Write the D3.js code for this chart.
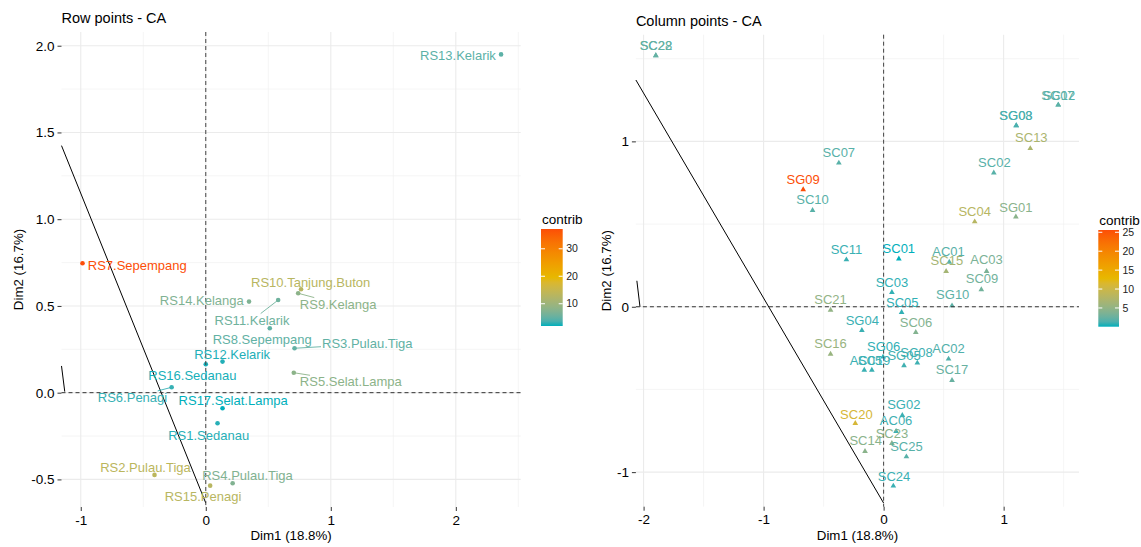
<!DOCTYPE html>
<html>
<head>
<meta charset="utf-8">
<script src="https://cdn.jsdelivr.net/npm/d3@7"></script>
<style>
  body { margin: 0; background: #fff; }
  svg { display: block; font-family: "Liberation Sans", Arial, sans-serif; }
</style>
</head>
<body>
<svg id="chart" width="1141" height="547"></svg>
<script>
// Row points (Dim1, Dim2, contribution) + where ggrepel put the labels
const rowNames = ["RS1.Sedanau", "RS2.Pulau.Tiga", "RS3.Pulau.Tiga", "RS4.Pulau.Tiga", "RS5.Selat.Lampa",
    "RS6.Penagi", "RS7.Sepempang", "RS8.Sepempang", "RS9.Kelanga", "RS10.Tanjung.Buton", "RS11.Kelarik",
    "RS12.Kelarik", "RS13.Kelarik", "RS14.Kelanga", "RS15.Penagi", "RS16.Sedanau", "RS17.Selat.Lampa"];
const rowDim1 = [0.094, -0.410, 0.710, 0.215, 0.704, -0.273, -0.986, 0.512, 0.739, 0.762, 0.579, 0.134, 2.362, 0.346, 0.035, 0.000, 0.134];
const rowDim2 = [-0.176, -0.474, 0.256, -0.522, 0.115, 0.031, 0.746, 0.371, 0.573, 0.596, 0.534, 0.179, 1.950, 0.525, -0.536, 0.164, -0.090];
const rowContrib = [2.4, 13.5, 4.8, 7.2, 8.2, 2.8, 37.2, 4.8, 8.2, 13.0, 5.8, 2.3, 4.5, 7.0, 13.0, 2.1, 1.9];
const rowLabelX = [0.023, -0.482, 1.292, 0.334, 1.160, -0.586, -0.548, 0.451, 1.059, 0.839, 0.370, 0.211, 2.017, -0.032, -0.022, -0.107, 0.219];
const rowLabelY = [-0.244, -0.430, 0.281, -0.480, 0.063, -0.027, 0.736, 0.308, 0.511, 0.638, 0.419, 0.223, 1.941, 0.534, -0.599, 0.102, -0.042];
const rowSegment = [false, false, true, false, true, true, false, false, true, false, true, false, false, false, false, false, false];

// Column points
const colNames = ["SC22", "SC28", "SC12", "SG07", "SG03", "SG08", "SC13", "SC02", "SG01", "SC04", "SC07", "SG09",
    "SC10", "SC11", "SC01", "AC01", "SC15", "AC03", "SC09", "SC03", "SG10", "SC21", "SC05", "SG04", "SC06", "SC16",
    "SG06", "AC05", "SC19", "SG05", "SC08", "AC02", "SC17", "SG02", "SC20", "AC06", "SC23", "SC14", "SC25", "SC24"];
const colDim1 = [-1.898, -1.898, 1.455, 1.455, 1.105, 1.105, 1.222, 0.918, 1.102, 0.759, -0.373, -0.670,
    -0.592, -0.310, 0.127, 0.547, 0.521, 0.858, 0.814, 0.069, 0.570, -0.442, 0.150, -0.181, 0.268, -0.442,
    -0.005, -0.161, -0.098, 0.170, 0.281, 0.541, 0.570, 0.156, -0.236, 0.104, 0.069, -0.155, 0.190, 0.081];
const colDim2 = [1.522, 1.522, 1.224, 1.224, 1.099, 1.099, 0.961, 0.813, 0.547, 0.518, 0.873, 0.712,
    0.587, 0.288, 0.293, 0.274, 0.218, 0.218, 0.107, 0.091, 0.010, -0.016, -0.030, -0.139, -0.151, -0.282,
    -0.300, -0.379, -0.379, -0.352, -0.336, -0.312, -0.441, -0.653, -0.701, -0.750, -0.822, -0.871, -0.903, -1.080];
const colContrib = [2.2, 2.3, 1.8, 1.9, 1.2, 1.3, 7.0, 1.8, 4.5, 8.0, 1.8, 25.6,
    1.8, 0.8, 0.05, 1.8, 6.5, 3.5, 3.0, 0.6, 2.0, 5.0, 0.6, 0.8, 4.0, 5.5,
    0.6, 0.8, 0.8, 1.0, 0.9, 1.5, 2.5, 0.8, 11.0, 0.9, 4.5, 4.5, 1.8, 0.8];
const colLabelX = [-1.897, -1.897, 1.462, 1.453, 1.103, 1.103, 1.231, 0.923, 1.102, 0.759, -0.373, -0.670,
    -0.592, -0.310, 0.127, 0.541, 0.527, 0.858, 0.820, 0.069, 0.576, -0.442, 0.156, -0.178, 0.270, -0.442,
    0.000, -0.147, -0.080, 0.170, 0.274, 0.541, 0.570, 0.168, -0.227, 0.104, 0.069, -0.149, 0.190, 0.087];
const colLabelY = [1.582, 1.582, 1.279, 1.279, 1.159, 1.159, 1.026, 0.871, 0.603, 0.574, 0.931, 0.768,
    0.647, 0.345, 0.351, 0.333, 0.278, 0.287, 0.169, 0.149, 0.073, 0.047, 0.024, -0.080, -0.093, -0.224,
    -0.238, -0.322, -0.322, -0.295, -0.277, -0.254, -0.381, -0.593, -0.649, -0.689, -0.765, -0.806, -0.846, -1.024];

// stray repel segments that ended up in the plots (data coords)
const rowStray = [[[-1.154, 1.424], [0, -0.636]], [[-1.154, 0.154], [-1.128, 0.006]]];
const colStray = [[[-2.064, 1.371], [0, -1.187]], [[-2.056, 0.157], [-2.03, 0]]];

const gradientCols = ["#00AFBB", "#E7B800", "#FC4E07"];

const svg = d3.select('#chart');

function rows(names, d1, d2, c, lx, ly, seg) {
    return names.map((n, i) => ({ name: n, x: d1[i], y: d2[i], c: c[i], lx: lx[i], ly: ly[i], seg: seg ? seg[i] : false }));
}

//Drawing one CA panel
function drawPanel(p) {
    const g = svg.append('g');
    const x = d3.scaleLinear().domain(p.xDomain).range([p.left, p.right]);
    const y = d3.scaleLinear().domain(p.yDomain).range([p.bottom, p.top]);
    const color = d3.scaleLinear()
        .domain([p.cExtent[0], (p.cExtent[0] + p.cExtent[1]) / 2, p.cExtent[1]])
        .range(gradientCols)
        .interpolate(d3.interpolateLab);

    // grid
    const grid = g.append('g');
    grid.selectAll().data(p.xMinor).enter().append('line')
        .attr('x1', d => x(d)).attr('x2', d => x(d)).attr('y1', p.top).attr('y2', p.bottom)
        .attr('stroke', '#f0f0f0').attr('stroke-width', 0.7);
    grid.selectAll().data(p.yMinor).enter().append('line')
        .attr('y1', d => y(d)).attr('y2', d => y(d)).attr('x1', p.left).attr('x2', p.right)
        .attr('stroke', '#f0f0f0').attr('stroke-width', 0.7);
    grid.selectAll().data(p.xTicks).enter().append('line')
        .attr('x1', d => x(d)).attr('x2', d => x(d)).attr('y1', p.top).attr('y2', p.bottom)
        .attr('stroke', '#ebebeb').attr('stroke-width', 1.1);
    grid.selectAll().data(p.yTicks).enter().append('line')
        .attr('y1', d => y(d)).attr('y2', d => y(d)).attr('x1', p.left).attr('x2', p.right)
        .attr('stroke', '#ebebeb').attr('stroke-width', 1.1);

    // axes
    const xAxis = d3.axisBottom(x).tickValues(p.xTicks).tickSize(4).tickPadding(4).tickFormat(p.xFmt);
    const yAxis = d3.axisLeft(y).tickValues(p.yTicks).tickSize(4).tickPadding(3).tickFormat(p.yFmt);
    [g.append('g').attr('transform', `translate(0, ${p.bottom})`).call(xAxis),
     g.append('g').attr('transform', `translate(${p.left}, 0)`).call(yAxis)].forEach(a => {
        a.attr('font-family', null).attr('font-size', null);
        a.select('.domain').remove();
        a.selectAll('line').attr('stroke', '#333');
        a.selectAll('text').attr('fill', '#000').style('font-size', '13.5px');
    });

    // stray segments
    g.selectAll().data(p.stray).enter().append('line')
        .attr('x1', d => x(d[0][0])).attr('y1', d => y(d[0][1]))
        .attr('x2', d => x(d[1][0])).attr('y2', d => y(d[1][1]))
        .attr('stroke', '#000').attr('stroke-width', 1);

    const segLayer = g.append('g');

    // points
    if (p.shape === 'circle') {
        g.selectAll().data(p.data).enter().append('circle')
            .attr('cx', d => x(d.x)).attr('cy', d => y(d.y)).attr('r', 2.3)
            .attr('fill', d => color(d.c));
    } else {
        g.selectAll().data(p.data).enter().append('path')
            .attr('d', d3.symbol(d3.symbolTriangle, 14))
            .attr('transform', d => `translate(${x(d.x)}, ${y(d.y) + 0.6})`)
            .attr('fill', d => color(d.c));
    }

    // zero lines
    g.append('line').attr('x1', x(0)).attr('x2', x(0)).attr('y1', p.top).attr('y2', p.bottom)
        .attr('stroke', '#444').attr('stroke-width', 1).attr('stroke-dasharray', '4,3');
    g.append('line').attr('y1', y(0)).attr('y2', y(0)).attr('x1', p.left).attr('x2', p.right)
        .attr('stroke', '#333').attr('stroke-width', 1).attr('stroke-dasharray', '4,3');

    // labels
    const labels = g.selectAll().data(p.data).enter().append('text')
        .attr('x', d => x(d.lx)).attr('y', d => y(d.ly)).attr('dy', '0.35em')
        .attr('text-anchor', 'middle')
        .style('font-size', '13px')
        .attr('fill', d => color(d.c))
        .text(d => d.name);

    // repel segments: from point towards label centre, stopping at the label box
    labels.each(function (d) {
        if (!d.seg) return;
        const b = this.getBBox();
        const px = x(d.x), py = y(d.y);
        const bx = b.x - 1, by = b.y + 1, bw = b.width + 2, bh = b.height - 2;
        const dx = bx + bw / 2 - px, dy = by + bh / 2 - py;
        const tx = dx !== 0 ? ((dx > 0 ? bx : bx + bw) - px) / dx : -Infinity;
        const ty = dy !== 0 ? ((dy > 0 ? by : by + bh) - py) / dy : -Infinity;
        const t = Math.max(tx, ty);
        segLayer.append('line')
            .attr('x1', px).attr('y1', py).attr('x2', px + dx * t).attr('y2', py + dy * t)
            .attr('stroke', color(d.c)).attr('stroke-width', 0.9);
    });

    // titles
    svg.append('text').attr('x', p.left).attr('y', p.titleY)
        .style('font-size', '14.5px').attr('fill', '#000').text(p.title);
    svg.append('text').attr('x', (p.left + p.right) / 2).attr('y', 540)
        .attr('text-anchor', 'middle').style('font-size', '13.3px').text('Dim1 (18.8%)');
    svg.append('text')
        .attr('transform', `translate(${p.yTitleX}, ${(p.top + p.bottom) / 2}) rotate(-90)`)
        .attr('text-anchor', 'middle').style('font-size', '13.3px').text('Dim2 (16.7%)');

    // colour bar legend
    const lg = svg.append('g');
    const gradId = 'grad' + p.id;
    const grad = svg.append('defs').append('linearGradient').attr('id', gradId)
        .attr('x1', 0).attr('x2', 0).attr('y1', 1).attr('y2', 0);
    d3.range(0, 1.0001, 0.05).forEach(t => {
        grad.append('stop').attr('offset', t)
            .attr('stop-color', color(p.cExtent[0] + t * (p.cExtent[1] - p.cExtent[0])));
    });
    const ls = d3.scaleLinear().domain(p.cExtent).range([p.legend.y1, p.legend.y0]);
    lg.append('text').attr('x', p.legend.x0 + 1).attr('y', p.legend.y0 - 5)
        .style('font-size', '13.5px').text('contrib');
    lg.append('rect').attr('x', p.legend.x0).attr('y', p.legend.y0)
        .attr('width', p.legend.x1 - p.legend.x0).attr('height', p.legend.y1 - p.legend.y0)
        .attr('fill', `url(#${gradId})`);
    p.legendTicks.forEach(v => {
        lg.append('line').attr('x1', p.legend.x0).attr('x2', p.legend.x0 + 4)
            .attr('y1', ls(v)).attr('y2', ls(v)).attr('stroke', '#fff').attr('stroke-width', 1);
        lg.append('line').attr('x1', p.legend.x1 - 4).attr('x2', p.legend.x1)
            .attr('y1', ls(v)).attr('y2', ls(v)).attr('stroke', '#fff').attr('stroke-width', 1);
        lg.append('text').attr('x', p.legend.x1 + 3.5).attr('y', ls(v)).attr('dy', '0.35em')
            .style('font-size', '10.5px').attr('fill', '#222').text(v);
    });
}

const rowData = rows(rowNames, rowDim1, rowDim2, rowContrib, rowLabelX, rowLabelY, rowSegment);
const colData = rows(colNames, colDim1, colDim2, colContrib, colLabelX, colLabelY, null);

drawPanel({
    id: 'row', title: 'Row points - CA', titleY: 23, yTitleX: 23,
    left: 61.5, right: 520.7, top: 32, bottom: 507,
    xDomain: [-1.154, 2.519], yDomain: [-0.659, 2.079],
    xTicks: [-1, 0, 1, 2], xMinor: [-0.5, 0.5, 1.5, 2.5],
    yTicks: [-0.5, 0, 0.5, 1, 1.5, 2], yMinor: [-0.25, 0.25, 0.75, 1.25, 1.75],
    xFmt: d => String(d), yFmt: d => d.toFixed(1),
    data: rowData, shape: 'circle', stray: rowStray,
    cExtent: d3.extent(rowContrib),
    legend: { x0: 541, x1: 562.7, y0: 229, y1: 326 }, legendTicks: [10, 20, 30]
});

drawPanel({
    id: 'col', title: 'Column points - CA', titleY: 25.5, yTitleX: 611,
    left: 635.9, right: 1079, top: 34.7, bottom: 506.7,
    xDomain: [-2.064, 1.628], yDomain: [-1.209, 1.645],
    xTicks: [-2, -1, 0, 1], xMinor: [-1.5, -0.5, 0.5, 1.5],
    yTicks: [-1, 0, 1], yMinor: [-0.5, 0.5, 1.5],
    xFmt: d => String(d), yFmt: d => String(d),
    data: colData, shape: 'triangle', stray: colStray,
    cExtent: d3.extent(colContrib),
    legend: { x0: 1098.3, x1: 1119, y0: 230, y1: 326.7 }, legendTicks: [5, 10, 15, 20, 25]
});
</script>
</body>
</html>
